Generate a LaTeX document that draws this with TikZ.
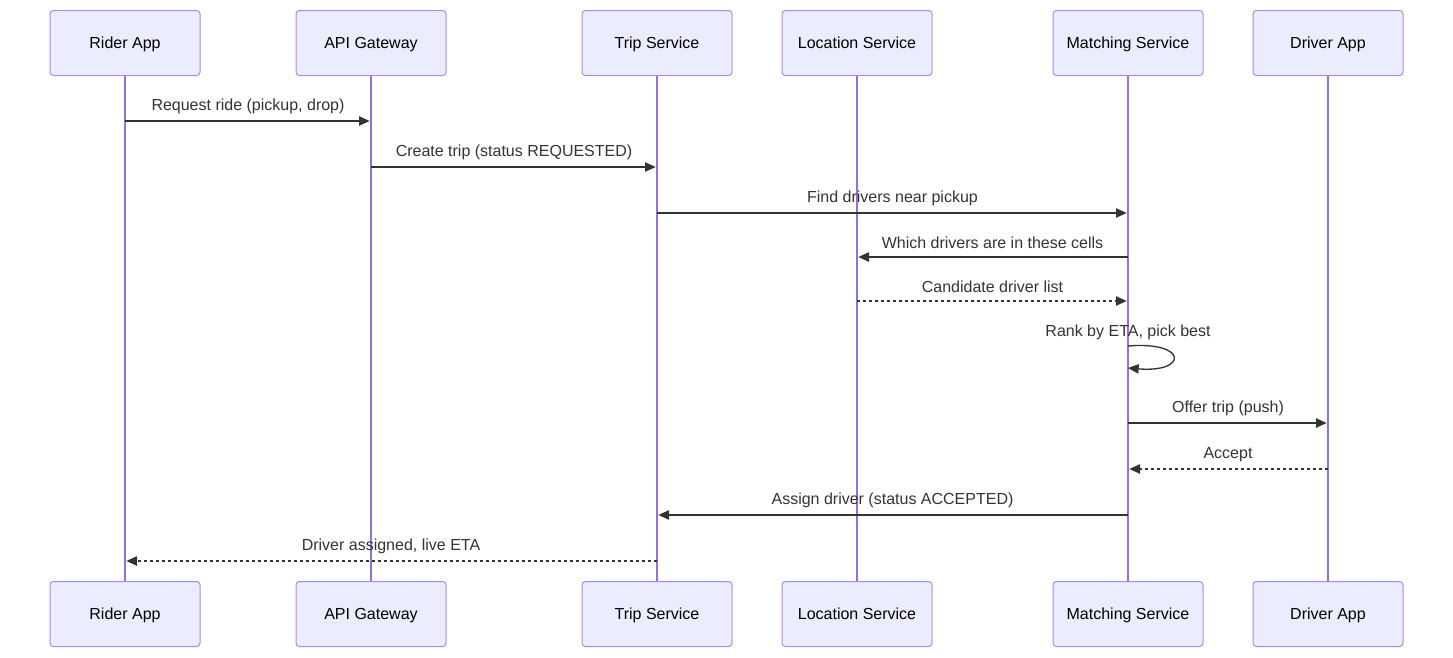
\documentclass[tikz,border=0pt]{standalone}
\usepackage{fontspec}
\setmainfont{Liberation Sans}
\usetikzlibrary{arrows.meta}
\definecolor{boxfill}{HTML}{ECECFF}
\definecolor{boxline}{HTML}{A98BE6}
\definecolor{life}{HTML}{9370DB}
\definecolor{txt}{HTML}{333333}
\tikzset{
  actor/.style={draw=boxline, fill=boxfill, line width=0.75pt, rounded corners=2.5pt,
    minimum width=112.5pt, minimum height=48.75pt, inner sep=0pt,
    text height=11pt, text depth=2.6pt,
    font=\fontsize{12}{14}\selectfont, text=black},
  lifeline/.style={draw=life, line width=1.2pt},
  msg/.style={draw=txt, line width=1pt, shorten >=1pt, -{Triangle[length=8pt,width=7pt]}},
  reply/.style={msg, dash pattern=on 2.25pt off 2.25pt},
  lbl/.style={font=\fontsize{12}{14}\selectfont, text=txt, inner sep=0pt,
    text height=8.6pt, text depth=2.6pt},
}
\begin{document}
\begin{tikzpicture}[x=0.75pt,y=-0.75pt]
\useasboundingbox (0,0) rectangle (1453,657);
% lifelines first
\foreach \n/\x in {rider/125,api/371,trip/657,loc/857,match/1128,driver/1328}{
  \draw[lifeline] (\x,75) -- (\x,581);
}
\foreach \n/\x/\t in {rider/125/Rider App,api/371/API Gateway,trip/657/Trip Service,loc/857/Location Service,match/1128/Matching Service,driver/1328/Driver App}{
  \node[actor] (\n T) at (\x,43) {\t};
  \node[actor] (\n B) at (\x,614) {\t};
}
% message rows
\foreach \i/\y in {1/121,2/167,3/213,4/257,5/301,7/423,8/469,9/515,10/561}{
  \coordinate (y\i) at (0,\y);
}
\draw[msg] (riderT |- y1) -- node[lbl, above=5pt] {Request ride (pickup, drop)} (apiT |- y1);
\draw[msg] (apiT |- y2) -- node[lbl, above=5pt] {Create trip (status REQUESTED)} (tripT |- y2);
\draw[msg] (tripT |- y3) -- node[lbl, above=5pt] {Find drivers near pickup} (matchT |- y3);
\draw[msg] (matchT |- y4) -- node[lbl, above=3.3pt] {Which drivers are in these cells} (locT |- y4);
\draw[reply] (locT |- y5) -- node[lbl, above=3.3pt] {Candidate driver list} (matchT |- y5);
% self loop
\coordinate (s1) at (1128,346);
\coordinate (s2) at (1128,368);
\node[lbl] (selflbl) at (1128,332) {Rank by ETA, pick best};
\draw[msg, shorten >=0pt] (s1) .. controls (1188,341) and (1188,373) .. (s2);
\draw[msg] (matchT |- y7) -- node[lbl, above=5pt] {Offer trip (push)} (driverT |- y7);
\draw[reply] (driverT |- y8) -- node[lbl, above=5pt] {Accept} (matchT |- y8);
\draw[msg] (matchT |- y9) -- node[lbl, above=5pt] {Assign driver (status ACCEPTED)} (tripT |- y9);
\draw[reply] (tripT |- y10) -- node[lbl, above=5pt] {Driver assigned, live ETA} (riderT |- y10);
\end{tikzpicture}
\end{document}
